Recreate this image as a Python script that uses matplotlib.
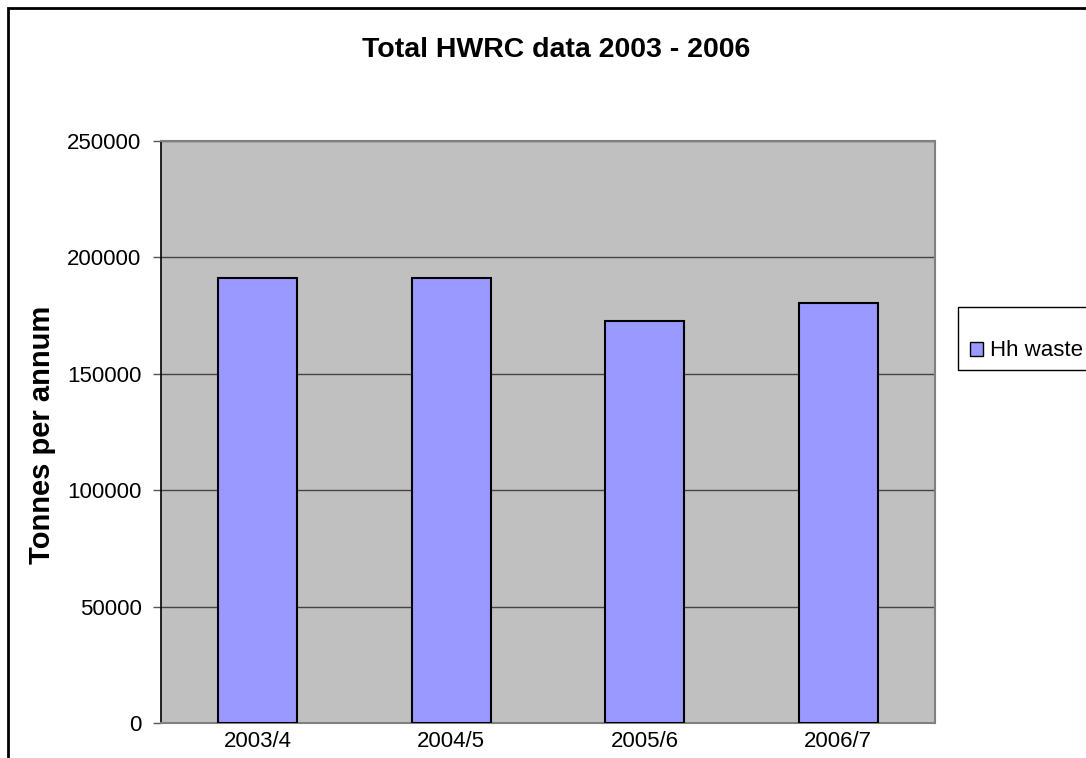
import matplotlib
matplotlib.use("Agg")
import matplotlib.pyplot as plt
from matplotlib.patches import Rectangle

categories = ["2003/4", "2004/5", "2005/6", "2006/7"]
hh_waste = [191000, 191000, 172500, 180500]
series_name = "Hh waste"
yticks = [0, 50000, 100000, 150000, 200000, 250000]

plt.rcParams['font.family'] = ['Liberation Sans', 'DejaVu Sans']

W, H = 1086, 758
fig = plt.figure(figsize=(W / 100, H / 100), dpi=100)
fig.patch.set_facecolor('white')

# figure border
fig.patches.append(Rectangle((8 / W, -0.1), 1.2, (H - 8) / H + 0.1, transform=fig.transFigure,
                             fill=False, edgecolor='black', linewidth=2, zorder=0))

ax = fig.add_axes([161 / W, (H - 723) / H, (935 - 161) / W, (723 - 141) / H])
ax.set_facecolor('#c0c0c0')
x = range(len(categories))
ax.bar(x, hh_waste, width=0.41, color='#9999ff', edgecolor='black', linewidth=1.5, zorder=3)
ax.set_xlim(-0.5, len(categories) - 0.5)
ax.set_ylim(0, 250000)
ax.set_yticks(yticks)
ax.set_yticklabels([str(v) for v in yticks], fontsize=16)
ax.set_xticks(list(x))
ax.set_xticklabels(categories, fontsize=16)
ax.tick_params(axis='x', length=0, pad=6)
ax.tick_params(axis='y', length=6, width=1, color='#555555', pad=8, direction='out')
ax.yaxis.grid(True, color='#444444', linewidth=1, zorder=1)
ax.set_axisbelow(True)
for s in ['top', 'right', 'bottom']:
    ax.spines[s].set_color('#808080')
    ax.spines[s].set_linewidth(1.5)
ax.spines['left'].set_color('black')
ax.spines['left'].set_linewidth(1.2)

fig.text(556 / W, 1 - 50 / H, "Total HWRC data 2003 - 2006", fontsize=20.5, fontweight='bold',
         ha='center', va='center')
fig.text(42 / W, 1 - 435 / H, "Tonnes per annum", fontsize=21,
         fontweight='bold', rotation=90, ha='center', va='center')

# legend box (clipped by figure edge)
fig.patches.append(Rectangle((958 / W, (H - 370) / H), 0.3, 63 / H, transform=fig.transFigure,
                             fill=True, facecolor='white', edgecolor='black', linewidth=1, zorder=2))
handle = Rectangle((0, 0), 1, 1, facecolor='#9999ff', edgecolor='black', linewidth=1)
leg = fig.legend([handle], [series_name], loc='center left',
                 bbox_to_anchor=(970 / W, 1 - 351 / H), frameon=False, fontsize=16,
                 handlelength=0.6, handleheight=0.6, handletextpad=0.3, borderpad=0, borderaxespad=0)

fig.savefig("out.png", dpi=100)
